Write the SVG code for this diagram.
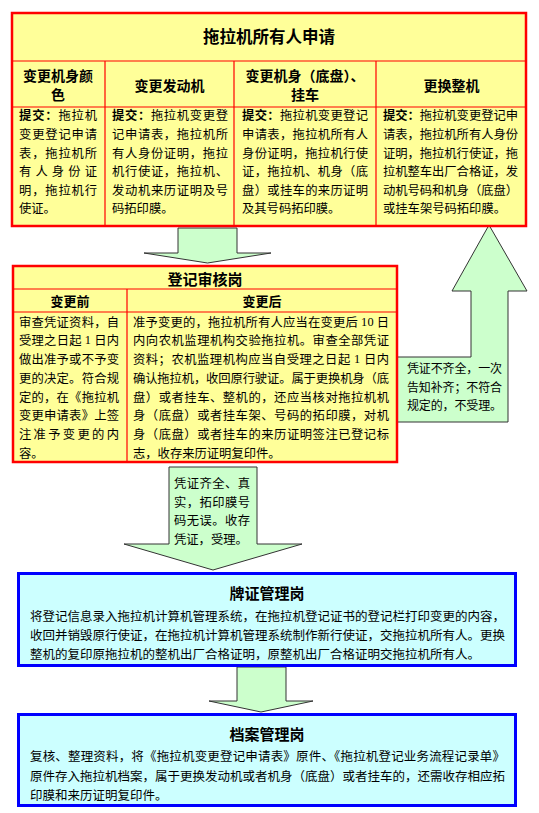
<svg xmlns="http://www.w3.org/2000/svg" width="539" height="813" viewBox="0 0 539 813">
<style>
text{font-family:"Noto Sans CJK SC","Noto Sans",sans-serif;fill:#000;dominant-baseline:central}
.t{font-size:12.3px}
.s{font-size:12px}
.m{font-size:12.5px}
.h{font-size:14px;font-weight:bold;text-anchor:middle}
.ti{font-size:15px;font-weight:bold;text-anchor:middle}
.b{font-weight:bold}
.yb{fill:#ffff99;stroke:#ff0000;stroke-width:2.5}
.ln{stroke:#ff0000;stroke-width:1.2;fill:none}
.cb{fill:#ccffff;stroke:#0000ff;stroke-width:3}
.ar{fill:#ccffcc;stroke:#333;stroke-width:1}
.n{font-family:"Liberation Serif",serif}
</style>
<g id="connectors">
<polygon class="ar" points="178,228 237,228 237,253 271,253 207.5,263 144,253 178,253"/>
<polygon class="ar" points="397,357 471,357 471,291 452,291 489,225 527,291 508,291 508,422 397,422"/>
<polygon class="ar" points="169,467 257,467 257,544 302,544 213,570 124,544 169,544"/>
<polygon class="ar" points="237,667 286,667 286,701 313,701 261,712 209,701 237,701"/>
<g class="s">
<text x="407" y="367" textLength="95" lengthAdjust="spacing">凭证不齐全，一次</text>
<text x="407" y="386" textLength="95" lengthAdjust="spacing">告知补齐；不符合</text>
<text x="407" y="404" textLength="95" lengthAdjust="spacing">规定的，不受理。</text>
</g>
<g class="t">
<text x="174" y="483" textLength="76" lengthAdjust="spacing">凭证齐全、真</text>
<text x="174" y="502" textLength="76" lengthAdjust="spacing">实，拓印膜号</text>
<text x="174" y="520" textLength="76" lengthAdjust="spacing">码无误。收存</text>
<text x="174" y="539">凭证，受理。</text>
</g>
</g>
<g id="apply">
<rect class="yb" x="12" y="13" width="514" height="213"/>
<path class="ln" d="M12,61H526M12,107H526M105,61V226M234,61V226M376,61V226"/>
<text x="269" y="36" style="font-size:16.5px;font-weight:bold;text-anchor:middle">拖拉机所有人申请</text>
<text class="h" x="58" y="75">变更机身颜</text>
<text class="h" x="58" y="94">色</text>
<text class="h" x="169.5" y="85">变更发动机</text>
<text class="h" x="305" y="75">变更机身（底盘）、</text>
<text class="h" x="305" y="94">挂车</text>
<text class="h" x="451.5" y="85">更换整机</text>
<g class="t">
<text x="19" y="115" textLength="78" lengthAdjust="spacing"><tspan class="b">提交：</tspan>拖拉机</text>
<text x="19" y="134" textLength="78" lengthAdjust="spacing">变更登记申请</text>
<text x="19" y="153" textLength="78" lengthAdjust="spacing">表，拖拉机所</text>
<text x="19" y="171" textLength="78" lengthAdjust="spacing">有人身份证</text>
<text x="19" y="190" textLength="78" lengthAdjust="spacing">明，拖拉机行</text>
<text x="19" y="208">使证。</text>
<text x="112" y="115" textLength="116" lengthAdjust="spacing"><tspan class="b">提交：</tspan>拖拉机变更登</text>
<text x="112" y="134" textLength="116" lengthAdjust="spacing">记申请表，拖拉机所</text>
<text x="112" y="153" textLength="116" lengthAdjust="spacing">有人身份证明，拖拉</text>
<text x="112" y="171" textLength="116" lengthAdjust="spacing">机行使证，拖拉机、</text>
<text x="112" y="190" textLength="116" lengthAdjust="spacing">发动机来历证明及号</text>
<text x="112" y="208">码拓印膜。</text>
<text x="242" y="115" textLength="126" lengthAdjust="spacing"><tspan class="b">提交：</tspan>拖拉机变更登记</text>
<text x="242" y="134" textLength="126" lengthAdjust="spacing">申请表，拖拉机所有人</text>
<text x="242" y="153" textLength="126" lengthAdjust="spacing">身份证明，拖拉机行使</text>
<text x="242" y="171" textLength="126" lengthAdjust="spacing">证，拖拉机、机身（底</text>
<text x="242" y="190" textLength="126" lengthAdjust="spacing">盘）或挂车的来历证明</text>
<text x="242" y="208">及其号码拓印膜。</text>
<text x="383" y="115" textLength="135" lengthAdjust="spacing"><tspan class="b">提交：</tspan>拖拉机变更登记申</text>
<text x="383" y="134" textLength="135" lengthAdjust="spacing">请表，拖拉机所有人身份</text>
<text x="383" y="153" textLength="135" lengthAdjust="spacing">证明，拖拉机行使证，拖</text>
<text x="383" y="171" textLength="135" lengthAdjust="spacing">拉机整车出厂合格证，发</text>
<text x="383" y="190" textLength="135" lengthAdjust="spacing">动机号码和机身（底盘）</text>
<text x="383" y="208">或挂车架号码拓印膜。</text>
</g>
</g>
<g id="review">
<rect class="yb" x="13" y="266" width="384" height="196"/>
<path class="ln" d="M13,289H397M13,312H397M127,289V462"/>
<text class="ti" x="205" y="278">登记审核岗</text>
<text class="h" x="70" y="300" style="font-size:13px">变更前</text>
<text class="h" x="262" y="300" style="font-size:13px">变更后</text>
<g class="t">
<text x="19" y="322" textLength="100" lengthAdjust="spacing">审查凭证资料，自</text>
<text x="19" y="340" textLength="100" lengthAdjust="spacing">受理之日起 <tspan class="n">1</tspan> 日内</text>
<text x="19" y="359" textLength="100" lengthAdjust="spacing">做出准予或不予变</text>
<text x="19" y="378" textLength="100" lengthAdjust="spacing">更的决定。符合规</text>
<text x="19" y="397" textLength="100" lengthAdjust="spacing">定的，在《拖拉机</text>
<text x="19" y="415" textLength="100" lengthAdjust="spacing">变更申请表》上签</text>
<text x="19" y="434" textLength="100" lengthAdjust="spacing">注准予变更的内</text>
<text x="19" y="453">容。</text>
<text x="133" y="322" textLength="256" lengthAdjust="spacing">准予变更的，拖拉机所有人应当在变更后 <tspan class="n">10</tspan> 日</text>
<text x="133" y="340" textLength="256" lengthAdjust="spacing">内向农机监理机构交验拖拉机。审查全部凭证</text>
<text x="133" y="359" textLength="256" lengthAdjust="spacing">资料；农机监理机构应当自受理之日起 <tspan class="n">1</tspan> 日内</text>
<text x="133" y="378" textLength="256" lengthAdjust="spacing">确认拖拉机，收回原行驶证。属于更换机身（底</text>
<text x="133" y="397" textLength="256" lengthAdjust="spacing">盘）或者挂车、整机的，还应当核对拖拉机机</text>
<text x="133" y="415" textLength="256" lengthAdjust="spacing">身（底盘）或者挂车架、号码的拓印膜，对机</text>
<text x="133" y="434" textLength="256" lengthAdjust="spacing">身（底盘）或者挂车的来历证明签注已登记标</text>
<text x="133" y="453">志，收存来历证明复印件。</text>
</g>
</g>
<g id="license">
<rect class="cb" x="18.5" y="573.5" width="497" height="92"/>
<text class="ti" x="267" y="592">牌证管理岗</text>
<g class="m">
<text x="30" y="615" textLength="475" lengthAdjust="spacing">将登记信息录入拖拉机计算机管理系统，在拖拉机登记证书的登记栏打印变更的内容，</text>
<text x="30" y="634" textLength="475" lengthAdjust="spacing">收回并销毁原行使证，在拖拉机计算机管理系统制作新行使证，交拖拉机所有人。更换</text>
<text x="30" y="653">整机的复印原拖拉机的整机出厂合格证明，原整机出厂合格证明交拖拉机所有人。</text>
</g>
</g>
<g id="archive">
<rect class="cb" x="18.5" y="714.5" width="497" height="91"/>
<text class="ti" x="267" y="733">档案管理岗</text>
<g class="m">
<text x="30" y="755" textLength="475" lengthAdjust="spacing">复核、整理资料，将《拖拉机变更登记申请表》原件、《拖拉机登记业务流程记录单》</text>
<text x="30" y="775" textLength="475" lengthAdjust="spacing">原件存入拖拉机档案，属于更换发动机或者机身（底盘）或者挂车的，还需收存相应拓</text>
<text x="30" y="794">印膜和来历证明复印件。</text>
</g>
</g>
</svg>
